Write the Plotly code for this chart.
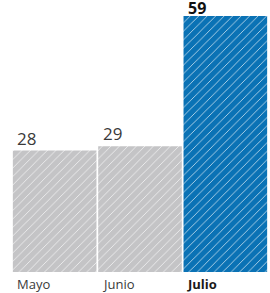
import plotly.graph_objects as go

categories = ["Mayo", "Junio", "Julio"]
values = [28, 29, 59]
bar_colors = ["#c4c4c6", "#c4c4c6", "#0a72b5"]
label_bold = [False, False, True]

fig = go.Figure()
for i, (v, col) in enumerate(zip(values, bar_colors)):
    fig.add_trace(go.Bar(
        x=[i], y=[v],
        marker=dict(
            color=col,
            line=dict(width=0),
            pattern=dict(shape="/", fillmode="replace", bgcolor=col,
                         fgcolor="#ffffff", fgopacity=0.7,
                         size=6, solidity=0.15),
        ),
        hoverinfo="skip",
    ))

annotations = []
for i, (c, v, b) in enumerate(zip(categories, values, label_bold)):
    annotations.append(dict(
        x=i - 0.46, y=v, xref="x", yref="y", xanchor="left", yanchor="bottom",
        text=f"<b>{v}</b>" if b else str(v), showarrow=False,
        font=dict(family="Open Sans", size=17 if not b else 16, color="#111111" if b else "#3a3a3a"),
        yshift=-5 if b else -1,
    ))
    annotations.append(dict(
        x=i - 0.47, y=0, xref="x", yref="paper", xanchor="left", yanchor="top",
        text=f"<b>{c}</b>" if b else c, showarrow=False,
        font=dict(family="Open Sans", size=13, color="#1a1a1a" if b else "#3a3a3a"),
        yshift=-1,
    ))

fig.update_layout(
    width=270, height=293,
    margin=dict(l=12, r=2, t=16, b=21),
    paper_bgcolor="white", plot_bgcolor="white",
    barmode="overlay",
    bargap=0.02,
    showlegend=False,
    xaxis=dict(range=[-0.5, 2.5], showticklabels=False, showgrid=False, zeroline=False, fixedrange=True),
    yaxis=dict(range=[0, 59], visible=False, showgrid=False, zeroline=False, fixedrange=True),
    annotations=annotations,
)

fig.write_html("out.html", config={"displayModeBar": False},
               post_script="document.body.style.margin='0';document.body.style.overflow='hidden';")
